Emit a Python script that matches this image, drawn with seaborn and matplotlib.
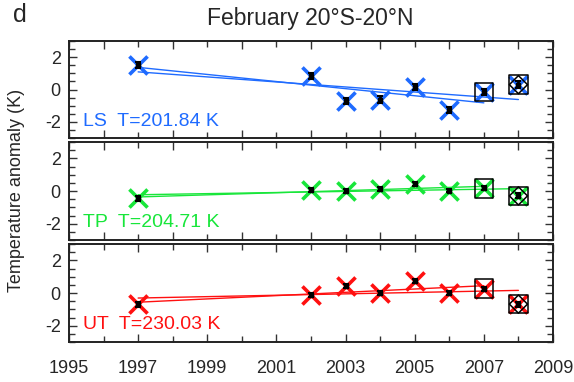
import numpy as np
import pandas as pd
import matplotlib
matplotlib.use("Agg")
import matplotlib.pyplot as plt
from matplotlib.ticker import MultipleLocator
import seaborn as sns

# Yearly February anomalies, 20S-20N
years = [1997, 2002, 2003, 2004, 2005, 2006, 2007, 2008]
ls_anom = [1.5, 0.82, -0.72, -0.62, 0.15, -1.27, -0.15, 0.3]
tp_anom = [-0.45, 0.05, 0.0, 0.13, 0.44, 0.03, 0.17, -0.3]
ut_anom = [-0.7, -0.14, 0.42, 0.02, 0.73, 0.0, 0.27, -0.68]
ls_err = [0.2, 0.2, 0.2, 0.2, 0.2, 0.2, 0.2, 0.2]
tp_err = [0.15, 0.12, 0.12, 0.12, 0.12, 0.12, 0.12, 0.15]
ut_err = [0.15, 0.12, 0.12, 0.12, 0.12, 0.12, 0.12, 0.15]

layers = ["LS", "TP", "UT"]
mean_temp = ["201.84", "204.71", "230.03"]
colors = ["#1f6bff", "#18e63a", "#ff1010"]
anoms = [ls_anom, tp_anom, ut_anom]
errs = [ls_err, tp_err, ut_err]

boxed_years = [2007, 2008]
diamond_years = [2008]

sns.set_style("ticks")
plt.rcParams["font.family"] = ["Liberation Sans", "DejaVu Sans"]

fig = plt.figure(figsize=(5.74, 3.82), dpi=100)
W, H = 574, 382
panel_px = [(41, 138), (142, 240), (244, 342)]
left_px, right_px = 69, 553

for i, (lay, tmean, col, y, e) in enumerate(zip(layers, mean_temp, colors, anoms, errs)):
    top, bot = panel_px[i]
    ax = fig.add_axes([left_px / W, 1 - bot / H, (right_px - left_px) / W, (bot - top) / H])
    df = pd.DataFrame({"year": years, "anom": y, "err": e})

    # trend lines: through 2007 and through 2008
    sub = df[df["year"] <= 2007]
    sns.regplot(data=sub, x="year", y="anom", scatter=False, ci=None, truncate=True,
                ax=ax, line_kws=dict(color=col, lw=1.0))
    sns.regplot(data=df, x="year", y="anom", scatter=False, ci=None, truncate=True,
                ax=ax, line_kws=dict(color=col, lw=1.0))

    sns.scatterplot(data=df, x="year", y="anom", marker="x", s=170, color=col,
                    linewidth=2.6, ax=ax, zorder=3, legend=False)
    ax.errorbar(df["year"], df["anom"], yerr=df["err"], fmt="s", ms=2.5, color="black",
                ecolor="black", elinewidth=2, capsize=2.5, capthick=1.5, zorder=4)

    box = df[df["year"].isin(boxed_years)]
    ax.scatter(box["year"], box["anom"], marker="s", s=180, facecolors="none",
               edgecolors="black", linewidths=1.1, zorder=5)
    dia = df[df["year"].isin(diamond_years)]
    ax.scatter(dia["year"], dia["anom"], marker="D", s=85, facecolors="none",
               edgecolors="black", linewidths=1.1, zorder=5)

    ax.text(1995.4, -1.95, f"{lay}  T={tmean} K", color=col, fontsize=14,
            va="center", ha="left")

    ax.set_xlim(1995, 2009)
    ax.set_ylim(-3, 3)
    ax.set_xlabel("")
    ax.set_ylabel("")
    ax.xaxis.set_major_locator(MultipleLocator(2))
    ax.xaxis.set_minor_locator(MultipleLocator(1))
    ax.yaxis.set_major_locator(MultipleLocator(2))
    ax.yaxis.set_minor_locator(MultipleLocator(0.5))
    ax.tick_params(which="both", direction="in", top=True, right=True,
                   labelsize=13, width=1.0, color="#333333")
    ax.tick_params(which="major", length=6)
    ax.tick_params(which="minor", length=4)
    ax.tick_params(axis="y", pad=6)
    ax.set_yticks([-2, 0, 2])
    ax.set_yticklabels(["-2", "0", "2"])
    if i < 2:
        ax.tick_params(axis="x", labelbottom=False)
    else:
        ax.set_xticks(range(1995, 2010, 2))
        ax.tick_params(axis="x", pad=13)
    for sp in ax.spines.values():
        sp.set_visible(True)
        sp.set_linewidth(1.4)
        sp.set_color("#222222")

fig.text(310 / W, 1 - 18 / H, "February 20°S-20°N", fontsize=16.5, ha="center", va="center")
fig.text(20 / W, 1 - 15 / H, "d", fontsize=18, ha="center", va="center")
fig.text(17 / W, 1 - 190 / H, "Temperature anomaly (K)", fontsize=13, rotation=90,
         ha="center", va="center")

fig.savefig("out.png", dpi=100)
